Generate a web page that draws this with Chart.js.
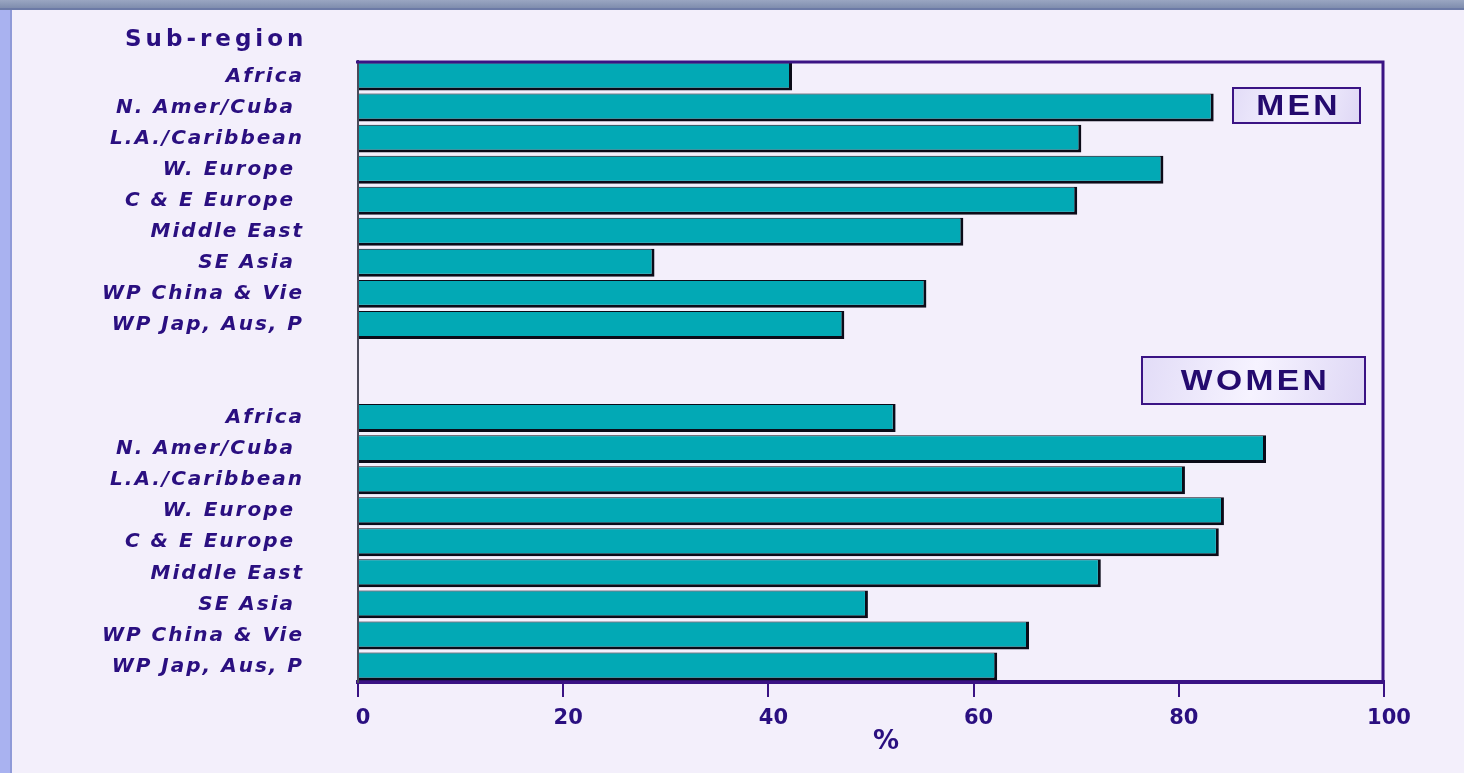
<!DOCTYPE html>
<html>
<head>
<meta charset="utf-8">
<script src="https://cdn.jsdelivr.net/npm/chart.js@4/dist/chart.umd.min.js"></script>
<style>
  html, body { margin: 0; padding: 0; background: #F3EFFB; overflow: hidden; }
  #wrap { position: relative; width: 1464px; height: 773px; background: #F3EFFB; }
  #topStrip { position: absolute; left: 0; top: 0; width: 1464px; height: 8px; background: linear-gradient(#9AA6C2, #7F8DAE); border-bottom: 2px solid #6C7AA6; }
  #leftStrip { position: absolute; left: 0; top: 10px; width: 10px; height: 763px; background: #A9B2F0; border-right: 2px solid #8F9AD8; }
  canvas { position: absolute; left: 0; top: 0; }
</style>
</head>
<body>
<div id="wrap">
  <canvas id="c" width="1464" height="773"></canvas>
  <div id="topStrip"></div>
  <div id="leftStrip"></div>
</div>
<script>
// ---- data ----
const categories = ['Africa', 'N. Amer/Cuba ', 'L.A./Caribbean', 'W. Europe ', 'C & E Europe ', 'Middle East', 'SE Asia ', 'WP China & Vie', 'WP Jap, Aus, P'];
const menValues = [42.3, 83.4, 70.5, 78.5, 70.1, 59.0, 28.9, 55.4, 47.4];
const womenValues = [52.4, 88.5, 80.6, 84.4, 83.9, 72.4, 49.7, 65.4, 62.3];
const gapLabels = ['', ''];
const xTickValues = [0, 20, 40, 60, 80, 100];
const axisTitle = '%';
const yTitle = 'Sub-region';
const groupNames = ['MEN', 'WOMEN'];

const allLabels = [...categories, ...gapLabels, ...categories];
const allValues = [...menValues, ...gapLabels.map(() => null), ...womenValues];

const INK = '#2A0F80';
const FRAME = '#3A1384';

const decorPlugin = {
  id: 'decor',
  afterLayout(chart) {
    const s = chart.scales.y;
    if (!s._lsPatched) {
      const orig = s.drawLabels;
      s.drawLabels = function (area) {
        const ctx = this.ctx;
        ctx.save();
        ctx.letterSpacing = '2px';
        orig.call(this, area);
        ctx.restore();
      };
      s._lsPatched = true;
    }
  },
  afterDatasetsDraw(chart) {
    const ctx = chart.ctx;
    const a = chart.chartArea;
    ctx.save();
    // top and right frame
    ctx.strokeStyle = FRAME;
    ctx.lineWidth = 3;
    ctx.beginPath();
    ctx.moveTo(a.left - 2, a.top + 1);
    ctx.lineTo(a.right - 1, a.top + 1);
    ctx.lineTo(a.right - 1, a.bottom + 2);
    ctx.stroke();

    // Sub-region title
    ctx.fillStyle = INK;
    ctx.font = 'bold 23px "DejaVu Sans"';
    ctx.letterSpacing = '4px';
    ctx.textAlign = 'left';
    ctx.textBaseline = 'middle';
    ctx.fillText(yTitle, 125, 40);

    // % axis title
    ctx.letterSpacing = '0px';
    ctx.font = 'bold 26px "DejaVu Sans"';
    ctx.textAlign = 'center';
    ctx.fillText(axisTitle, 886, 742);

    // group boxes
    const boxes = [
      { text: groupNames[0], x: 1233, y: 88, w: 127, h: 35 },
      { text: groupNames[1], x: 1142, y: 357, w: 223, h: 47 }
    ];
    boxes.forEach(b => {
      const g = ctx.createLinearGradient(b.x, b.y, b.x + b.w, b.y + b.h);
      g.addColorStop(0, '#E2DCF7');
      g.addColorStop(0.5, '#F6F3FF');
      g.addColorStop(1, '#DED7F5');
      ctx.fillStyle = g;
      ctx.fillRect(b.x, b.y, b.w, b.h);
      ctx.strokeStyle = FRAME;
      ctx.lineWidth = 2;
      ctx.strokeRect(b.x, b.y, b.w, b.h);
      ctx.save();
      ctx.fillStyle = '#240A6E';
      ctx.font = 'bold 30px "Liberation Sans"';
      ctx.letterSpacing = '3px';
      ctx.textAlign = 'center';
      ctx.textBaseline = 'middle';
      const cx = b.x + b.w / 2 + 2;
      ctx.translate(cx, b.y + b.h / 2 + 1);
      ctx.scale(1.12, 1);
      ctx.fillText(b.text, 0, 0);
      ctx.restore();
    });
    ctx.restore();
  }
};

new Chart(document.getElementById('c'), {
  type: 'bar',
  data: {
    labels: allLabels,
    datasets: [{
      data: allValues,
      backgroundColor: '#02A9B5',
      borderColor: '#0B0B18',
      borderWidth: { top: 1, right: 3, bottom: 3, left: 0 },
      borderSkipped: false,
      barPercentage: 0.9,
      categoryPercentage: 1.0
    }]
  },
  options: {
    indexAxis: 'y',
    responsive: false,
    animation: false,
    events: [],
    layout: { padding: { left: 0, top: 61, right: 80, bottom: 0 } },
    plugins: { legend: { display: false }, tooltip: { enabled: false }, title: { display: false } },
    scales: {
      x: {
        type: 'linear',
        min: 0,
        max: 100,
        afterBuildTicks(scale) { scale.ticks = xTickValues.map(v => ({ value: v })); },
        afterFit(scale) { scale.height = 91; scale.paddingLeft = 0; scale.paddingRight = 0; },
        grid: { display: true, drawOnChartArea: false, drawTicks: true, tickLength: 15, color: FRAME, lineWidth: 2 },
        border: { display: true, color: FRAME, width: 4 },
        ticks: { color: INK, font: { family: '"DejaVu Sans"', weight: 'bold', size: 21 }, padding: 9, labelOffset: 5 }
      },
      y: {
        type: 'category',
        afterFit(scale) { scale.width = 358; scale.paddingTop = 0; scale.paddingBottom = 0; },
        grid: { display: false, drawTicks: false },
        border: { display: true, color: '#4A4A5A', width: 2 },
        ticks: { color: INK, font: { family: '"DejaVu Sans"', weight: 'bold', style: 'italic', size: 20 }, padding: 54, autoSkip: false }
      }
    }
  },
  plugins: [decorPlugin]
});
</script>
</body>
</html>
